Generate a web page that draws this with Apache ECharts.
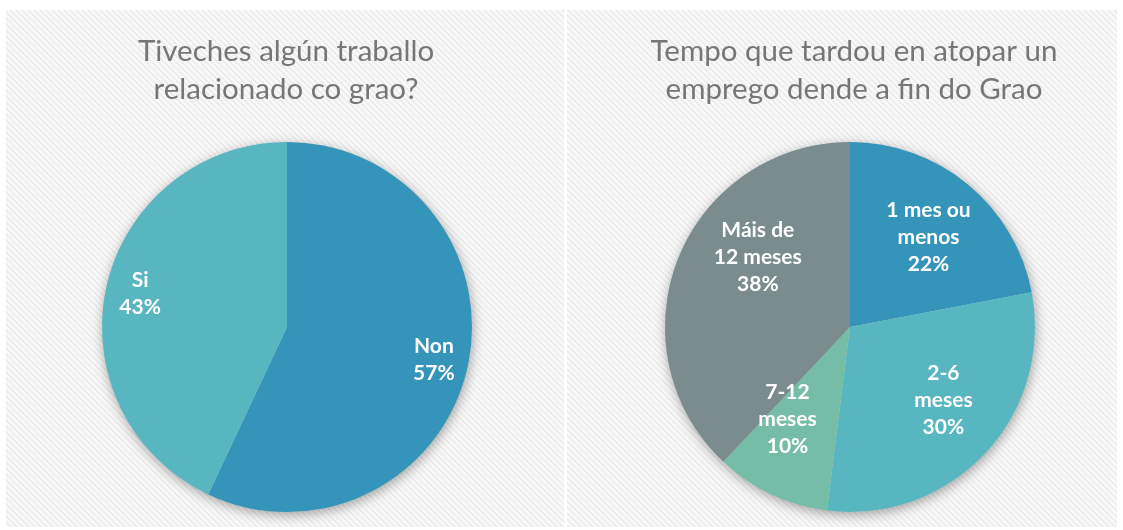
<!DOCTYPE html>
<html>
<head>
<meta charset="utf-8">
<script src="https://cdn.jsdelivr.net/npm/echarts@6/dist/echarts.min.js"></script>
<style>
  html, body { margin: 0; padding: 0; background: #fff; }
  #main { width: 1123px; height: 530px; }
</style>
</head>
<body>
<div id="main"></div>
<script>
// data
var titleLeft = 'Tiveches algún traballo\nrelacionado co grao?';
var titleRight = 'Tempo que tardou en atopar un\nemprego dende a fin do Grao';

var catsLeft = ['Non', 'Si'];
var valsLeft = [57, 43];
var colorsLeft = ['#3494ba', '#58b6c0'];

var catsRight = ['1 mes ou\nmenos', '2-6\nmeses', '7-12\nmeses', 'Máis de\n12 meses'];
var valsRight = [22, 30, 10, 38];
var colorsRight = ['#3494ba', '#58b6c0', '#75bda7', '#7a8c8e'];

// striped background tile
function makeStripes() {
  var c = document.createElement('canvas');
  c.width = 6; c.height = 6;
  var g = c.getContext('2d');
  g.fillStyle = '#fafafa';
  g.fillRect(0, 0, 6, 6);
  g.strokeStyle = '#ececec';
  g.lineWidth = 2;
  g.beginPath();
  g.moveTo(-1, -1); g.lineTo(7, 7);
  g.moveTo(-7, -1); g.lineTo(1, 7);
  g.moveTo(5, -1); g.lineTo(13, 7);
  g.stroke();
  return c;
}
var stripes = makeStripes();

var chart = echarts.init(document.getElementById('main'), null, { renderer: 'canvas' });
var font = 'Lato, "Open Sans", sans-serif';

// small nudges so labels sit where the original put them: [dx, dy] in px
var nudgeRight = [[3, 2], [7, -8], [-12, -15], [18, -26]];
var nudgeLeft = [[0, 0], [0, 0]];

function mk(data, names, colors) {
  return names.map(function (n, i) {
    return { name: n, value: data[i], itemStyle: { color: colors[i] } };
  });
}

// transparent ring only used to place the labels further out
function labelSeries(center, inner, names, vals, nudge) {
  return {
    type: 'pie',
    center: center,
    radius: [inner, 185],
    startAngle: 90,
    silent: true,
    z: 5,
    data: names.map(function (n, i) {
      var dx = nudge[i][0], dy = nudge[i][1];
      var fmt = '{b}\n{d}%';
      if (dy < 0) fmt = fmt + '\n{g| }';
      if (dy > 0) fmt = '{g| }\n' + fmt;
      return {
        name: n, value: vals[i],
        label: {
          formatter: fmt,
          padding: [0, dx < 0 ? -2 * dx : 0, 0, dx > 0 ? 2 * dx : 0],
          rich: { g: { lineHeight: Math.max(1, 2 * Math.abs(dy)), fontSize: 1 } }
        }
      };
    }),
    itemStyle: { color: 'rgba(0,0,0,0)' },
    label: {
      show: true,
      position: 'inside',
      formatter: '{b}\n{d}%',
      color: '#fff',
      fontFamily: font,
      fontWeight: 'bold',
      fontSize: 21,
      lineHeight: 27
    },
    labelLine: { show: false },
    emphasis: { disabled: true }
  };
}

function baseSeries(center) {
  return {
    type: 'pie',
    center: center,
    radius: 185,
    silent: true,
    z: 1,
    data: [{ value: 1 }],
    label: { show: false },
    itemStyle: { color: '#ccc', shadowColor: 'rgba(0,0,0,0.35)', shadowBlur: 12, shadowOffsetY: 3, shadowOffsetX: 1 }
  };
}

function mainSeries(center, data) {
  return {
    type: 'pie',
    center: center,
    radius: 185,
    startAngle: 90,
    z: 2,
    data: data,
    label: { show: false },
    labelLine: { show: false },
    itemStyle: { borderWidth: 0 }
  };
}

chart.setOption({
  animation: false,
  graphic: [
    { type: 'rect', z: -10, shape: { x: 6, y: 10, width: 558, height: 517 }, style: { fill: { image: stripes, repeat: 'repeat' } } },
    { type: 'rect', z: -10, shape: { x: 567, y: 10, width: 550, height: 517 }, style: { fill: { image: stripes, repeat: 'repeat' } } }
  ],
  title: [
    {
      text: titleLeft, left: 281, top: 27, textAlign: 'center',
      textStyle: { fontFamily: font, fontWeight: 'normal', fontSize: 29.5, lineHeight: 38, color: '#767676' }
    },
    {
      text: titleRight, left: 849, top: 27, textAlign: 'center',
      textStyle: { fontFamily: font, fontWeight: 'normal', fontSize: 29.5, lineHeight: 38, color: '#767676' }
    }
  ],
  series: [
    baseSeries([287, 327]),
    mainSeries([287, 327], mk(valsLeft, catsLeft, colorsLeft)),
    labelSeries([287, 327], 110, catsLeft, valsLeft, nudgeLeft),
    baseSeries([850, 327]),
    mainSeries([850, 327], mk(valsRight, catsRight, colorsRight)),
    labelSeries([850, 327], 46, catsRight, valsRight, nudgeRight)
  ]
});
</script>
</body>
</html>
